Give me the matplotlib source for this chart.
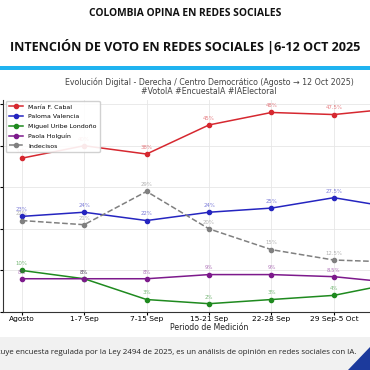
import matplotlib
matplotlib.use("Agg")
import matplotlib.pyplot as plt
from matplotlib.patches import Rectangle, Polygon

# datos
periodos = ["Agosto", "1-7 Sep", "7-15 Sep", "15-21 Sep", "22-28 Sep", "29 Sep-5 Oct", "6-12 Oct"]
cabal = [37, 40, 38, 45, 48, 47.5, 49]
paloma = [23, 24, 22, 24, 25, 27.5, 25]
miguel = [10, 8, 3, 2, 3, 4, 7]
paola = [8, 8, 8, 9, 9, 8.5, 7]
indecisos = [22, 21, 29, 20, 15, 12.5, 12]

series = [
    ("María F. Cabal", cabal, "#d62830", "-"),
    ("Paloma Valencia", paloma, "#2525c0", "-"),
    ("Miguel Uribe Londoño", miguel, "#1f8a1f", "-"),
    ("Paola Holguín", paola, "#7d1a8c", "-"),
    ("Indecisos", indecisos, "#808080", "--"),
]

W = H = 370
fig = plt.figure(figsize=(3.7, 3.7), dpi=100)

def fx(px):
    return px / W

def fy(py):
    return 1 - py / H

# cabecera
fig.text(0.5, fy(13), "COLOMBIA OPINA EN REDES SOCIALES", ha="center", va="center",
         fontsize=7.4, fontweight="bold", family="Open Sans", color="#111111")
fig.text(0.5, fy(47), "INTENCIÓN DE VOTO EN REDES SOCIALES |6-12 OCT 2025", ha="center", va="center",
         fontsize=9.1, fontweight="bold", family="Open Sans", color="#111111")
fig.add_artist(Rectangle((0, fy(70)), 1, fy(66) - fy(70), transform=fig.transFigure,
                         color="#1fb3f0", lw=0))

# pie
fig.add_artist(Rectangle((0, 0), 1, fy(337), transform=fig.transFigure, color="#f1f1f1", lw=0))
fig.text(fx(356), fy(353), "Nota: Este estudio no constituye encuesta regulada por la Ley 2494 de 2025, "
         "es un análisis de opinión en redes sociales con IA.", ha="right", va="center",
         fontsize=5.7, family="Open Sans", color="#222222")
fig.add_artist(Polygon([[fx(348), 0], [1, fy(347)], [1, 0]], closed=True,
                       transform=fig.transFigure, color="#1c3a9c", lw=0))

# grafico (recortado a la derecha como en la imagen)
ax = fig.add_axes([fx(3), fy(312), fx(412), fy(100) - fy(312)])
x = list(range(len(periodos)))
for nombre, vals, col, ls in series:
    ax.plot(x, vals, ls, color=col, marker="o", markersize=3, lw=1.1, label=nombre)
    # el ultimo punto queda fuera del recorte
    for xi, v in zip(x[:-1], vals[:-1]):
        ax.annotate(f"{v:g}%", (xi, v), xytext=(0, 3), textcoords="offset points", ha="center",
                    va="bottom", fontsize=3.9, color=col, alpha=0.6)

ax.set_xlim(-0.3, 6.3)
ax.set_ylim(0, 51)
ax.set_yticks([0, 10, 20, 30, 40, 50])
ax.set_yticklabels([])
ax.set_xticks(x[:-1])
ax.set_xticklabels(periodos[:-1], fontsize=5.4)
ax.tick_params(axis="x", length=2, pad=1)
ax.tick_params(axis="y", length=2)
ax.grid(True, color="#e6e6e6", lw=0.6)
ax.spines["top"].set_visible(False)
ax.spines["right"].set_visible(False)
ax.spines["left"].set_color("#333333")
ax.spines["bottom"].set_color("#333333")
ax.set_xlabel("Periodo de Medición", fontsize=5.6, labelpad=0.5, color="#222222")
ax.set_title("Evolución Digital - Derecha / Centro Democrático (Agosto → 12 Oct 2025)\n"
             "#VotoIA #EncuestaIA #IAElectoral", fontsize=5.7, color="#444444", pad=4,
             linespacing=1.0)
ax.legend(loc="upper left", fontsize=4.5, frameon=True, framealpha=0.9, borderpad=0.5,
          handlelength=2.2, labelspacing=0.7, edgecolor="#cccccc",
          bbox_to_anchor=(0, 1.01))

fig.savefig("out.png", dpi=100)
